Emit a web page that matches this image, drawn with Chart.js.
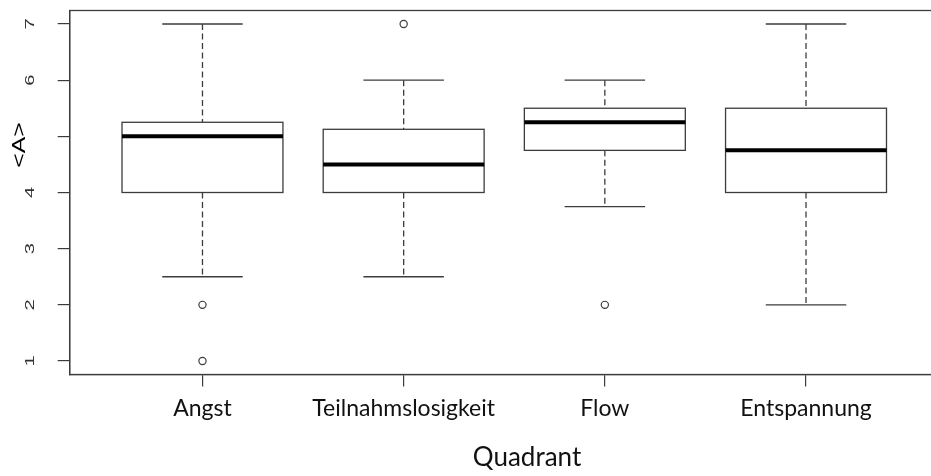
<!DOCTYPE html>
<html>
<head>
  <title>Quadrant Boxplot</title>
  <script src="https://cdn.jsdelivr.net/npm/chart.js@4.4.0/dist/chart.umd.min.js"></script>
  <style>
    body { margin: 0; overflow: hidden; background: #fff; }
  </style>
</head>
<body>
  <canvas id="boxChart" width="944" height="476"></canvas>

  <script>
    // five-number summaries per quadrant
    const quadrants = ['Angst', 'Teilnahmslosigkeit', 'Flow', 'Entspannung'];
    const whiskerLow = [2.5, 2.5, 3.75, 2];
    const q1 = [4, 4, 4.75, 4];
    const median = [5, 4.5, 5.25, 4.75];
    const q3 = [5.25, 5.125, 5.5, 5.5];
    const whiskerHigh = [7, 6, 6, 7];
    const outliers = [[2, 1], [7], [2], []];
    const yTicks = [1, 2, 3, 4, 5, 6, 7];
    // the "5" label sits under the axis title
    const yLabels = ['1', '2', '3', '4', '', '6', '7'];

    const outlierPoints = [];
    outliers.forEach((vals, i) => vals.forEach(v => outlierPoints.push({ x: i + 1, y: v })));

    const lineCol = '#3c3c3c';

    function seg(ctx, x1, y1, x2, y2) {
      ctx.beginPath();
      ctx.moveTo(x1, y1);
      ctx.lineTo(x2, y2);
      ctx.stroke();
    }

    // boxes, whiskers and the R-style frame / rotated labels
    const boxPlugin = {
      id: 'boxes',
      beforeDatasetsDraw(chart) {
        const { ctx, scales: { x, y } } = chart;
        const unit = x.getPixelForValue(1) - x.getPixelForValue(0);
        quadrants.forEach((q, i) => {
          const cx = x.getPixelForValue(i + 1);
          const half = unit * 0.4, cap = unit * 0.2;
          const yHi = y.getPixelForValue(whiskerHigh[i]);
          const yQ3 = y.getPixelForValue(q3[i]);
          const yMed = y.getPixelForValue(median[i]);
          const yQ1 = y.getPixelForValue(q1[i]);
          const yLo = y.getPixelForValue(whiskerLow[i]);
          ctx.save();
          ctx.strokeStyle = lineCol;
          ctx.lineWidth = 1.3;
          ctx.setLineDash([6, 3.5]);
          seg(ctx, cx, yHi, cx, yQ3);
          seg(ctx, cx, yQ1, cx, yLo);
          ctx.setLineDash([]);
          seg(ctx, cx - cap, yHi, cx + cap, yHi);
          seg(ctx, cx - cap, yLo, cx + cap, yLo);
          ctx.strokeRect(cx - half, yQ3, half * 2, yQ1 - yQ3);
          ctx.strokeStyle = '#000';
          ctx.lineWidth = 4;
          seg(ctx, cx - half, yMed, cx + half, yMed);
          ctx.restore();
        });
      },
      afterDraw(chart) {
        const { ctx, chartArea: a, scales: { y } } = chart;
        ctx.save();
        ctx.strokeStyle = lineCol;
        ctx.lineWidth = 1.3;
        ctx.strokeRect(a.left, a.top, a.right - a.left, a.bottom - a.top);

        // y tick labels, rotated and stretched like the R device output
        ctx.fillStyle = '#333';
        ctx.textAlign = 'center';
        ctx.textBaseline = 'middle';
        ctx.font = '13px "Liberation Sans", Arial, sans-serif';
        y.ticks.forEach((t, i) => {
          ctx.save();
          ctx.translate(30, y.getPixelForValue(t.value));
          ctx.rotate(-Math.PI / 2);
          ctx.scale(1.55, 1);
          ctx.fillText(yLabels[i], 0, 0);
          ctx.restore();
        });

        ctx.save();
        ctx.font = '19px "Liberation Sans", Arial, sans-serif';
        ctx.fillStyle = '#000';
        ctx.translate(20, 145);
        ctx.rotate(-Math.PI / 2);
        ctx.scale(1.3, 1);
        ctx.fillText('<A>', 0, 0);
        ctx.restore();

        ctx.font = '26px Lato, sans-serif';
        ctx.fillStyle = '#111';
        ctx.textBaseline = 'alphabetic';
        ctx.fillText('Quadrant', 527, 466);
        ctx.restore();
      }
    };

    const ctx = document.getElementById('boxChart').getContext('2d');
    new Chart(ctx, {
      type: 'scatter',
      data: {
        datasets: [{
          data: outlierPoints,
          pointStyle: 'circle',
          pointRadius: 3.6,
          borderColor: lineCol,
          borderWidth: 1.2,
          backgroundColor: '#fff'
        }]
      },
      options: {
        responsive: false,
        animation: false,
        layout: { padding: { top: 10.5, right: 1.7, left: 0, bottom: 0 } },
        plugins: { legend: { display: false }, tooltip: { enabled: false } },
        scales: {
          x: {
            type: 'linear',
            min: 0.34,
            max: 4.66,
            afterBuildTicks: s => { s.ticks = quadrants.map((q, i) => ({ value: i + 1 })); },
            afterFit: s => { s.height = 101.5; },
            grid: { drawOnChartArea: false, drawTicks: true, tickLength: 12, color: lineCol, lineWidth: 1.2 },
            border: { display: true, color: lineCol, width: 1.3 },
            ticks: {
              autoSkip: false,
              maxRotation: 0,
              padding: 8,
              color: '#111',
              font: { family: 'Lato', size: 23 },
              callback: (v, i) => quadrants[i]
            }
          },
          y: {
            type: 'linear',
            min: 0.76,
            max: 7.24,
            afterBuildTicks: s => { s.ticks = yTicks.map(v => ({ value: v })); },
            afterFit: s => { s.width = 69.7; },
            grid: { drawOnChartArea: false, drawTicks: true, tickLength: 12, color: lineCol, lineWidth: 1.2 },
            border: { display: true, color: lineCol, width: 1.3 },
            ticks: { display: false }
          }
        }
      },
      plugins: [boxPlugin]
    });
  </script>
</body>
</html>
